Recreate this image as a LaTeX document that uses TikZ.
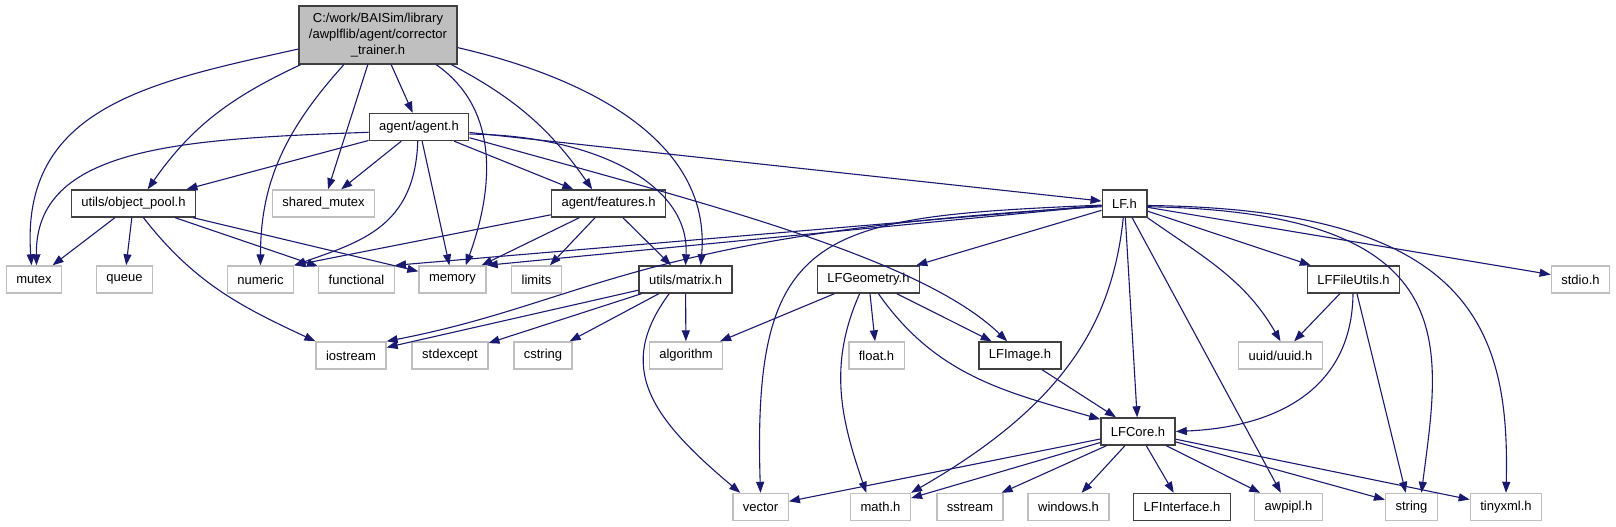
\documentclass[tikz,border=0pt]{standalone}
\usepackage{fontspec}
\setmainfont{Liberation Sans}
\usetikzlibrary{arrows.meta}
\definecolor{edgeblue}{HTML}{191970}
\definecolor{boxline}{HTML}{404040}
\definecolor{extline}{HTML}{BFBFBF}

\begin{document}
\begin{tikzpicture}[x=1pt,y=1pt,
    hdr/.style={rectangle,draw=boxline,line width=1.4pt,fill=white,minimum height=27pt,inner xsep=10pt,inner ysep=0pt,font=\fontsize{13}{16}\selectfont},
    sys/.style={hdr,draw=extline},
    inc/.style={draw=edgeblue,line width=1.1pt,-{Triangle[length=11pt,width=8pt]}}]

\useasboundingbox (0,0) rectangle (1616,527);

% the file itself
\node[hdr,fill=extline,align=center,minimum height=58pt] (main) at (378,492) {C:/work/BAISim/library\\/awplflib/agent/corrector\\\_trainer.h};

\node[hdr] (agent) at (419,400) {agent/agent.h};

\node[hdr] (pool) at (133.5,323.5) {utils/object\_pool.h};
\node[sys] (shmutex) at (323.5,323.5) {shared\_mutex};
\node[hdr] (features) at (608.5,323.5) {agent/features.h};
\node[hdr] (lf) at (1124.5,323.5) {LF.h};

\node[sys] (mutex) at (34,247.5) {mutex};
\node[sys] (queue) at (124.5,247.5) {queue};
\node[sys] (numeric) at (260.5,247.5) {numeric};
\node[sys] (functional) at (356.5,247.5) {functional};
\node[sys] (memory) at (452.5,247.5) {memory};
\node[sys] (limits) at (536.5,247.5) {limits};
\node[hdr] (matrix) at (685.5,247.5) {utils/matrix.h};
\node[hdr] (geometry) at (868.5,247.5) {LFGeometry.h};
\node[hdr] (fileutils) at (1353.5,247.5) {LFFileUtils.h};
\node[sys] (stdio) at (1580.5,247.5) {stdio.h};

\node[sys] (iostream) at (351,171.5) {iostream};
\node[sys] (stdexcept) at (450,171.5) {stdexcept};
\node[sys] (cstring) at (543,171.5) {cstring};
\node[sys] (algorithm) at (686,171.5) {algorithm};
\node[sys] (floath) at (876.5,171.5) {float.h};
\node[hdr] (image) at (1020,171.5) {LFImage.h};
\node[sys] (uuid) at (1280.5,171.5) {uuid/uuid.h};

\node[hdr] (core) at (1138,95.5) {LFCore.h};

\node[sys] (vector) at (760.5,20) {vector};
\node[sys] (mathh) at (880.5,20) {math.h};
\node[sys] (sstream) at (970,20) {sstream};
\node[sys] (windows) at (1068.5,20) {windows.h};
\node[hdr] (interface) at (1182,20) {LFInterface.h};
\node[sys] (awpipl) at (1288.5,20) {awpipl.h};
\node[sys] (string) at (1411.5,20) {string};
\node[sys] (tinyxml) at (1506,20) {tinyxml.h};

% corrector_trainer.h
\draw[inc] (main.190) .. controls (150,445) and (20,420) .. (mutex.100);
\draw[inc] (main.201) to[out=205,in=55] (pool.45);
\draw[inc] (main.221) to[out=228,in=90] (numeric.north);
\draw[inc] (main.251) -- (shmutex);
\draw[inc] (main.294) -- (agent);
\draw[inc] (main.333) to[out=-35,in=70] (memory.47);
\draw[inc] (main.338) to[out=-28,in=125] (features.139);
\draw[inc] (main.351) to[out=-13,in=85] (matrix.43);

% agent/agent.h
\draw[inc] (agent.186) .. controls (180,388) and (35,380) .. (mutex.80);
\draw[inc] (agent) -- (pool);
\draw[inc] (agent) -- (shmutex);
\draw[inc] (agent.265) .. controls (415,300) and (360,285) .. (numeric.north east);
\draw[inc] (agent) -- (memory);
\draw[inc] (agent) -- (features);
\draw[inc] (agent.352) .. controls (590,392) and (690,345) .. (matrix.north);
\draw[inc] (agent.348) .. controls (700,325) and (920,270) .. (image.132);
\draw[inc] (agent) -- (lf);

% utils/object_pool.h
\draw[inc] (pool) -- (mutex);
\draw[inc] (pool) -- (queue);
\draw[inc] (pool.305) to[out=-52,in=155] (iostream.north west);
\draw[inc] (pool) -- (functional);
\draw[inc] (pool) -- (memory);

% agent/features.h
\draw[inc] (features) -- (numeric.north east);
\draw[inc] (features) -- (memory);
\draw[inc] (features) -- (limits);
\draw[inc] (features) -- (matrix);

% LF.h
\draw[inc] (lf) -- (functional.north east);
\draw[inc] (lf) -- (memory.north east);
\draw[inc] (lf.188) .. controls (640,295) and (590,225) .. (iostream.north east);
\draw[inc] (lf.184) .. controls (820,310) and (752,300) .. (vector.north);
\draw[inc] (lf) -- (geometry);
\draw[inc] (lf.265) .. controls (1112,200) and (1060,120) .. (mathh.north east);
\draw[inc] (lf) -- (core);
\draw[inc] (lf) -- (awpipl);
\draw[inc] (lf.south east) to[out=-35,in=120] (uuid.north);
\draw[inc] (lf) -- (fileutils);
\draw[inc] (lf.352) .. controls (1470,315) and (1440,180) .. (string.55);
\draw[inc] (lf.355) .. controls (1470,318) and (1510,200) .. (tinyxml.north);
\draw[inc] (lf) -- (stdio);

% LFGeometry.h
\draw[inc] (geometry) -- (algorithm);
\draw[inc] (geometry.238) to[out=246,in=109] (mathh.135);
\draw[inc] (geometry) -- (floath);
\draw[inc] (geometry) -- (image);
\draw[inc] (geometry.305) to[out=-55,in=164] (core.162);

% LFImage.h
\draw[inc] (image) -- (core);

% LFFileUtils.h
\draw[inc] (fileutils) -- (uuid);
\draw[inc] (fileutils.268) .. controls (1352,140) and (1280,100) .. (core.east);
\draw[inc] (fileutils) -- (string.112);

% LFCore.h
\draw[inc] (core) -- (vector);
\draw[inc] (core) -- (mathh);
\draw[inc] (core) -- (sstream);
\draw[inc] (core) -- (windows);
\draw[inc] (core) -- (interface);
\draw[inc] (core) -- (awpipl);
\draw[inc] (core) -- (string);
\draw[inc] (core) -- (tinyxml);

% utils/matrix.h
\draw[inc] (matrix) -- (iostream);
\draw[inc] (matrix) -- (stdexcept);
\draw[inc] (matrix) -- (cstring);
\draw[inc] (matrix) -- (algorithm);
\draw[inc] (matrix.221) .. controls (615,160) and (650,110) .. (vector.145);

\end{tikzpicture}
\end{document}
